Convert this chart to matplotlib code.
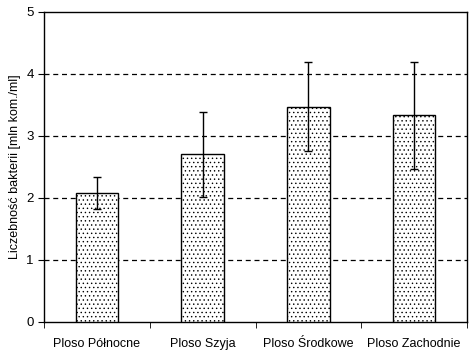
import numpy as np
import matplotlib.pyplot as plt

plt.rcParams['font.family'] = ['Liberation Sans', 'DejaVu Sans']
plt.rcParams['hatch.linewidth'] = 0.5

# data
categories = ['Ploso Północne', 'Ploso Szyja', 'Ploso Środkowe', 'Ploso Zachodnie']
means = [2.08, 2.70, 3.47, 3.33]
errors = [0.26, 0.69, 0.72, 0.86]

fig = plt.figure(figsize=(4.75, 3.54), dpi=100)
ax = fig.add_axes([44/475, 1 - 321.5/354, 423/475, 309.5/354])

x = np.arange(len(categories))
ax.bar(x, means, width=0.4, color='white', edgecolor='black', linewidth=1,
       hatch='....', zorder=3)
ax.errorbar(x, means, yerr=errors, fmt='none', ecolor='black', elinewidth=1,
            capsize=3, capthick=1, zorder=4)

ax.set_xlim(-0.5, len(categories) - 0.5)
ax.set_ylim(0, 5)
ax.set_yticks(range(6))
ax.set_xticks(x)
ax.set_xticklabels(categories)
ax.set_xticks(np.arange(-0.5, len(categories)), minor=True)
ax.tick_params(axis='x', which='major', length=0, pad=12, labelsize=9)
ax.tick_params(axis='x', which='minor', length=4, direction='out')
ax.tick_params(axis='y', length=4, direction='out', labelsize=9.5)
ax.set_ylabel('Liczebność bakterii [mln kom./ml]', fontsize=9)

for v in [1, 2, 3, 4]:
    ax.axhline(v, color='black', linestyle=(0, (4, 3)), linewidth=0.9, zorder=1)

for s in ax.spines.values():
    s.set_linewidth(1)

fig.savefig('out.png', dpi=100)
